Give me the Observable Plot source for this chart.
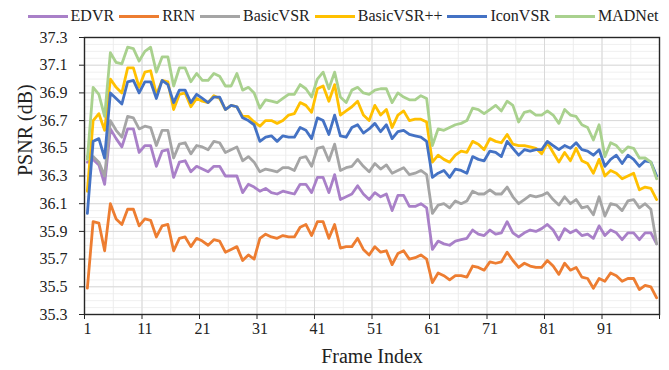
<!DOCTYPE html>
<html><head><meta charset="utf-8">
<script src="https://cdn.jsdelivr.net/npm/d3@7"></script>
<script src="https://cdn.jsdelivr.net/npm/@observablehq/plot@0.6"></script>
<style>
body{margin:0;background:#fff;font-family:"Liberation Serif","Times New Roman",serif;}
#legend{position:absolute;left:0;top:0;width:669px;height:32px;display:flex;justify-content:center;align-items:center;box-sizing:border-box;padding-left:17px;font-size:16px;color:#222;z-index:2;}
.item{display:flex;align-items:center;margin-right:5px;white-space:nowrap;}
.item:last-child{margin-right:0}
.sw{width:40px;height:3px;margin-right:3px;}
#chart{padding-top:20px;}
#chart svg{display:block;overflow:visible;}
#chart svg, #chart svg text{font-family:"Liberation Serif","Times New Roman",serif !important;}
</style></head><body>
<div id="legend"></div>
<div id="chart"></div>
<script>
const names = ["EDVR", "RRN", "BasicVSR", "BasicVSR++", "IconVSR", "MADNet"];
const colors = ["#a980c8", "#ed7d31", "#a5a5a5", "#ffc000", "#4472c4", "#a9d18e"];

const edvr = [36.40,36.42,36.38,36.24,36.64,36.57,36.51,36.64,36.64,36.47,36.52,36.52,36.37,36.48,36.49,36.29,36.40,36.41,
36.33,36.37,36.35,36.33,36.37,36.37,36.30,36.30,36.30,36.18,36.24,36.22,36.19,36.21,36.18,36.17,
36.19,36.18,36.17,36.24,36.24,36.18,36.29,36.29,36.18,36.31,36.13,36.15,36.17,36.23,36.17,36.13,36.18,
36.15,36.17,36.05,36.16,36.16,36.08,36.08,36.10,36.07,35.77,35.83,35.81,35.80,35.83,35.84,35.85,
35.91,35.88,35.87,35.91,35.88,35.89,35.97,35.89,35.86,35.89,35.91,35.90,35.92,35.95,35.91,35.84,35.92,
35.89,35.91,35.87,35.88,35.85,35.94,35.87,35.91,35.89,35.84,35.89,35.89,35.84,35.89,35.89,35.81];

const rrn = [35.49,35.97,35.96,35.76,36.10,35.99,35.95,36.06,36.06,35.94,35.99,35.98,35.86,35.94,35.95,35.76,35.85,35.86,
35.79,35.85,35.83,35.80,35.84,35.83,35.75,35.77,35.79,35.69,35.73,35.70,35.85,35.88,35.86,35.85,
35.87,35.86,35.86,35.93,35.95,35.87,35.97,35.97,35.85,35.95,35.78,35.79,35.79,35.85,35.77,35.73,35.79,
35.75,35.76,35.66,35.74,35.76,35.70,35.71,35.73,35.70,35.53,35.60,35.58,35.55,35.58,35.58,35.57,
35.65,35.64,35.62,35.68,35.67,35.68,35.75,35.69,35.64,35.67,35.65,35.64,35.64,35.69,35.65,35.59,35.67,
35.62,35.64,35.57,35.56,35.49,35.56,35.54,35.60,35.58,35.54,35.56,35.56,35.48,35.51,35.50,35.42];

const basicvsr = [36.44,36.44,36.40,36.30,36.70,36.63,36.58,36.73,36.72,36.64,36.66,36.65,36.52,36.63,36.63,36.43,36.53,36.54,
36.46,36.52,36.51,36.49,36.55,36.54,36.47,36.49,36.51,36.41,36.44,36.40,36.33,36.35,36.34,36.33,
36.36,36.36,36.34,36.43,36.44,36.37,36.50,36.51,36.41,36.53,36.34,36.36,36.37,36.42,36.37,36.33,36.39,
36.35,36.38,36.32,36.34,36.36,36.31,36.32,36.34,36.31,36.03,36.09,36.10,36.07,36.12,36.10,36.12,
36.19,36.17,36.17,36.20,36.17,36.17,36.22,36.15,36.10,36.13,36.16,36.15,36.16,36.18,36.13,36.09,36.15,
36.10,36.13,36.07,36.08,36.02,36.15,36.01,36.10,36.09,36.05,36.12,36.13,36.07,36.10,36.06,35.81];

const basicvsrpp = [36.19,36.70,36.75,36.63,37.00,36.94,36.90,37.08,37.08,36.94,37.05,37.06,36.89,36.99,36.98,36.78,36.89,36.90,
36.80,36.86,36.84,36.83,36.88,36.86,36.78,36.81,36.80,36.73,36.73,36.69,36.66,36.70,36.70,36.68,
36.70,36.74,36.75,36.83,36.81,36.76,36.93,36.95,36.84,36.96,36.74,36.77,36.80,36.84,36.74,36.70,36.81,
36.74,36.78,36.65,36.74,36.77,36.70,36.71,36.71,36.69,36.40,36.45,36.42,36.40,36.45,36.48,36.47,
36.55,36.53,36.49,36.57,36.55,36.54,36.60,36.53,36.52,36.52,36.51,36.50,36.46,36.54,36.47,36.40,36.47,
36.41,36.50,36.41,36.39,36.32,36.42,36.30,36.34,36.32,36.28,36.30,36.32,36.20,36.22,36.21,36.13];

const iconvsr = [36.03,36.55,36.57,36.43,36.90,36.86,36.82,36.98,36.99,36.90,36.98,36.98,36.86,36.99,36.96,36.83,36.92,36.92,
36.83,36.89,36.86,36.83,36.87,36.87,36.78,36.81,36.80,36.72,36.70,36.67,36.55,36.58,36.59,36.55,
36.59,36.58,36.58,36.65,36.63,36.57,36.72,36.70,36.60,36.74,36.59,36.58,36.65,36.67,36.61,36.64,36.68,
36.62,36.67,36.57,36.62,36.63,36.60,36.59,36.58,36.55,36.29,36.32,36.34,36.29,36.35,36.34,36.32,
36.44,36.42,36.41,36.48,36.47,36.44,36.55,36.50,36.45,36.49,36.48,36.49,36.49,36.55,36.52,36.49,36.52,
36.50,36.54,36.49,36.48,36.45,36.49,36.37,36.42,36.45,36.39,36.45,36.42,36.37,36.41,36.40,36.30];

const madnet = [36.42,36.94,36.89,36.73,37.19,37.12,37.11,37.23,37.22,37.13,37.20,37.23,37.05,37.16,37.16,36.95,37.08,37.08,
36.98,37.04,36.99,36.99,37.04,37.02,36.95,36.95,37.04,36.92,36.94,36.90,36.79,36.85,36.84,36.83,
36.86,36.89,36.89,36.96,36.93,36.87,37.00,37.05,36.93,37.05,36.87,36.83,36.92,36.94,36.90,36.89,36.92,
36.93,36.93,36.83,36.90,36.87,36.85,36.85,36.88,36.86,36.52,36.64,36.63,36.65,36.67,36.68,36.70,
36.79,36.78,36.75,36.78,36.81,36.77,36.84,36.81,36.69,36.76,36.77,36.74,36.74,36.77,36.74,36.68,36.78,
36.74,36.73,36.67,36.65,36.56,36.67,36.44,36.54,36.52,36.47,36.51,36.50,36.43,36.43,36.40,36.28];

const xTickLabels = [1, 11, 21, 31, 41, 51, 61, 71, 81, 91];
const yTicks = [35.3, 35.5, 35.7, 35.9, 36.1, 36.3, 36.5, 36.7, 36.9, 37.1, 37.3];

const seriesValues = [edvr, rrn, basicvsr, basicvsrpp, iconvsr, madnet];
const data = names.flatMap((name, s) => seriesValues[s].map((v, i) => ({series: name, frame: i + 1, psnr: v})));

// category boundaries (ticks between frames) and gridlines
const boundaries = d3.range(0, 11).map(i => i * 10 + 0.5);
const minorX = d3.range(1, 20).map(i => i * 5 + 0.5);
const minorY = d3.range(0, 41).map(i => +(35.3 + i * 0.05).toFixed(2));

// legend
const legend = document.getElementById("legend");
names.forEach((n, i) => {
  const item = document.createElement("span");
  item.className = "item";
  const sw = document.createElement("span");
  sw.className = "sw";
  sw.style.background = colors[i];
  item.appendChild(sw);
  item.appendChild(document.createTextNode(n));
  legend.appendChild(item);
});

const chart = Plot.plot({
  width: 669,
  height: 350,
  marginTop: 17,
  marginRight: 10,
  marginBottom: 56,
  marginLeft: 84,
  style: {fontFamily: "Liberation Serif, serif", fontSize: "16px", color: "#222", overflow: "visible"},
  x: {domain: [0.5, 100.5], axis: null},
  y: {domain: [35.3, 37.3], axis: null},
  color: {domain: names, range: colors},
  marks: [
    Plot.ruleY(minorY, {stroke: "#f0f0f0", strokeWidth: 1}),
    Plot.ruleX(minorX, {stroke: "#ececec", strokeWidth: 1}),
    Plot.ruleY(yTicks, {stroke: "#d9d9d9", strokeWidth: 1}),
    Plot.ruleX(boundaries, {stroke: "#d9d9d9", strokeWidth: 1}),
    Plot.lineY(data, {x: "frame", y: "psnr", stroke: "series", z: "series", strokeWidth: 2.8, strokeLinejoin: "round", strokeLinecap: "round"}),
    Plot.frame({stroke: "#262626", strokeWidth: 1.4}),
    Plot.axisY(yTicks, {tickSize: 5, tickPadding: 12, tickFormat: d3.format(".1f"), label: null, stroke: "#262626", fontSize: 16}),
    Plot.axisX(boundaries, {tickSize: 5, tickFormat: () => "", label: null, stroke: "#262626"}),
    Plot.axisX(xTickLabels, {tickSize: 0, tickPadding: 8, label: null, fontSize: 16}),
    Plot.text(["Frame Index"], {text: d => d, frameAnchor: "bottom", lineAnchor: "middle", dy: 42, fontSize: 20}),
    Plot.text(["PSNR (dB)"], {text: d => d, frameAnchor: "left", dx: -59, rotate: -90, fontSize: 20})
  ]
});
document.getElementById("chart").appendChild(chart);
</script>
</body></html>
